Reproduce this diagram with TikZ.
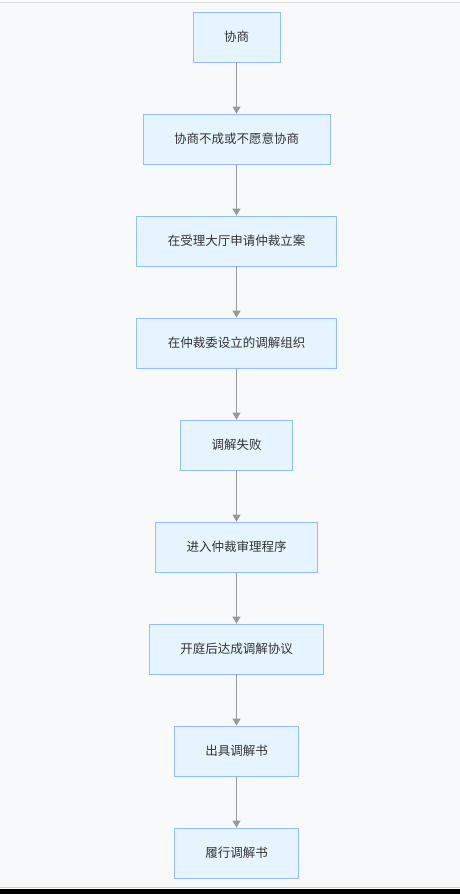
\documentclass[tikz,border=0pt]{standalone}
\usepackage{fontspec}
\newfontfamily\cjk{Noto Sans CJK SC}
\usetikzlibrary{arrows.meta}
\definecolor{bgfill}{HTML}{F8F9FB}
\definecolor{boxfill}{HTML}{E6F4FF}
\definecolor{boxline}{HTML}{8FBFFF}
\definecolor{arrowgray}{HTML}{999999}
\definecolor{textgray}{HTML}{333333}

\begin{document}
\begin{tikzpicture}[x=1pt,y=-1pt]
\tikzstyle{stepbox}=[rectangle,draw=boxline,line width=0.8pt,fill=boxfill,minimum height=50pt,inner xsep=31pt,text=textgray,font=\cjk\fontsize{12.5pt}{14pt}\selectfont]
\tikzstyle{every node}=[stepbox]
\tikzstyle{level}=[level distance=102pt]
\tikzstyle{edge from parent}=[draw=arrowgray,line width=0.8pt,-{Triangle[width=8pt,length=7pt]}]
% page and frame lines
\useasboundingbox (0,0) rectangle (460,894);
\fill[white] (0,0) rectangle (460,894);
\fill[bgfill] (0,3) rectangle (460,887);
\draw[gray!25,line width=0.8pt] (0,2.5) -- (460,2.5);
\draw[gray!40,line width=0.8pt] (0,887) -- (460,887);
\fill[black] (0,889) rectangle (460,894);
\node (xieshang) at (236.5,37) {协商}
  child{node (buyuan) {协商不成或不愿意协商}
  child{node (lian) {在受理大厅申请仲裁立案}
  child{node (tiaojie) {在仲裁委设立的调解组织}
  child{node (shibai) {调解失败}
  child{node (shenli) {进入仲裁审理程序}
  child{node (xieyi) {开庭后达成调解协议}
  child{node (chuju) {出具调解书}
  child{node (lvxing) {履行调解书}}}}}}}}}
;\end{tikzpicture}
\end{document}
